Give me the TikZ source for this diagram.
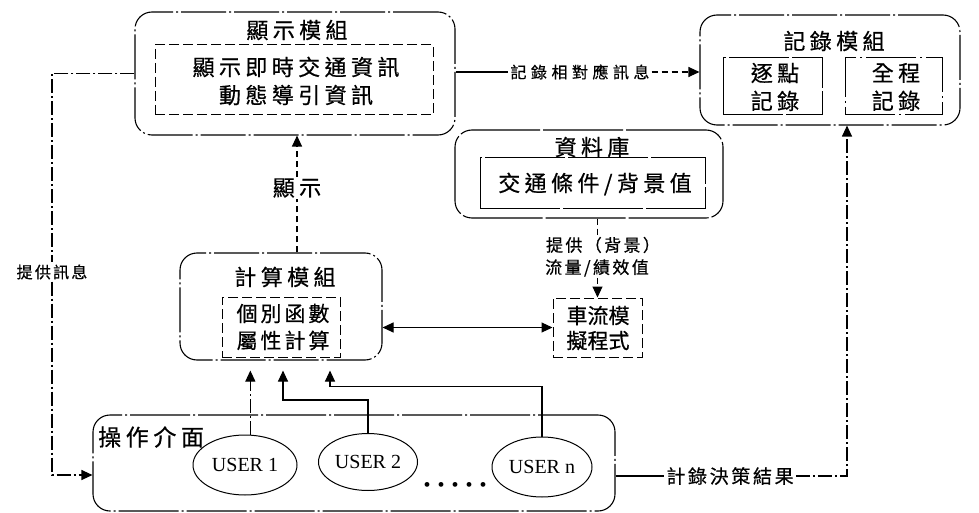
\documentclass[tikz,border=0pt]{standalone}
\usepackage{fontspec}
\setmainfont{Liberation Serif}
\newfontfamily\cjk[FakeBold=0.6]{Noto Sans CJK TC}
\newfontfamily\cjkw[LetterSpace=20,FakeBold=0.6]{Noto Sans CJK TC}
\newfontfamily\cjkm[LetterSpace=28,FakeBold=0.6]{Noto Sans CJK TC}
\newfontfamily\cjks[LetterSpace=14,FakeBold=0.6]{Noto Sans CJK TC}
\usetikzlibrary{arrows.meta,calc,shapes.geometric}
\tikzset{
  outerbox/.style={draw, rounded corners=17pt, line width=1.1pt, dash pattern=on 45pt off 3pt on 2pt off 3pt, inner sep=0pt},
  innerbox/.style={draw, line width=1pt, dash pattern=on 10pt off 4pt, inner sep=0pt},
  solidbox/.style={draw, line width=1pt, inner sep=0pt},
  bigtxt/.style={font=\cjkw\fontsize{22}{28}\selectfont, align=center, inner sep=1pt},
  lbltxt/.style={font=\cjkm\fontsize{16}{18}\selectfont, inner sep=2pt},
  midtxt/.style={font=\cjks\fontsize{17}{23}\selectfont, inner sep=1pt},
  usernode/.style={draw, ellipse, line width=1pt, inner sep=0pt, font=\fontsize{20}{24}\selectfont},
  conn/.style={line width=1.1pt},
  dd/.style={conn, dash pattern=on 14pt off 3pt on 2pt off 3pt},
  dsh/.style={conn, dash pattern=on 6pt off 4pt},
  tip/.style={-{Triangle[length=11pt,width=10pt]}},
  dtip/.style={{Triangle[length=11pt,width=10pt]}-{Triangle[length=11pt,width=10pt]}}
}
\begin{document}
\begin{tikzpicture}[x=1pt,y=-1pt]
\useasboundingbox (0,0) rectangle (979,513);
% display module
\node[outerbox, minimum width=320pt, minimum height=123pt] (disp) at (295,73.5) {};
\node[bigtxt] (dispt) at (297,30) {顯示模組};
\node[innerbox, minimum width=278pt, minimum height=70pt] (dispin) at (294,80) {};
\node[bigtxt] (dispint) at (296,81) {顯示即時交通資訊\\動態導引資訊};
% record module
\node[outerbox, minimum width=260pt, minimum height=110pt] (rec) at (830,70) {};
\node[bigtxt] (rect) at (834,41) {記錄模組};
\node[solidbox, dash pattern=on 60pt off 3pt, minimum width=99pt, minimum height=57pt] (rec1) at (772.5,86.5) {};
\node[bigtxt] (rec1t) at (775,87) {逐點\\記錄};
\node[solidbox, dash pattern=on 50pt off 4pt on 2pt off 4pt, minimum width=97pt, minimum height=57pt] (rec2) at (893.5,86.5) {};
\node[bigtxt] (rec2t) at (896,87) {全程\\記錄};
% database
\node[outerbox, dash pattern=on 80pt off 3pt, minimum width=268pt, minimum height=88pt] (db) at (589,174) {};
\node[bigtxt] (dbt) at (592,147) {資料庫};
\node[solidbox, dash pattern=on 80pt off 3pt, minimum width=225pt, minimum height=50pt] (dbin) at (592.5,183) {};
\node[bigtxt] (dbint) at (595,184) {交通條件/背景值};
% simulation
\node[innerbox, minimum width=89pt, minimum height=59pt] (sim) at (597.5,327.5) {};
\node[bigtxt, font=\cjk\fontsize{21}{25}\selectfont] (simt) at (598,328) {車流模\\擬程式};
% calc module
\node[outerbox, minimum width=202pt, minimum height=107pt] (calc) at (281,306.5) {};
\node[bigtxt] (calct) at (285,277) {計算模組};
\node[innerbox, minimum width=118pt, minimum height=60pt] (calcin) at (281,327) {};
\node[bigtxt, font=\cjks\fontsize{21}{27}\selectfont] (calcint) at (283,327) {個別函數\\屬性計算};
% operation interface
\node[outerbox, dash pattern=on 60pt off 3pt on 2pt off 3pt, minimum width=522pt, minimum height=96pt] (ui) at (354,463) {};
\node[bigtxt, font=\cjkw\fontsize{23}{24}\selectfont, anchor=west] (uit) at (97,437) {操作介面};
\node[usernode, minimum width=104pt, minimum height=60pt] (u1) at (245,465) {USER 1};
\node[usernode, minimum width=99pt, minimum height=57pt] (u2) at (368,462) {USER 2};
\node[usernode, minimum width=100pt, minimum height=60pt] (un) at (542,467) {USER n};
\node[font=\fontsize{20}{20}\selectfont, inner sep=0pt] (dots) at (455,487) {\textbullet\hspace{7pt}\textbullet\hspace{7pt}\textbullet\hspace{7pt}\textbullet\hspace{7pt}\textbullet};
% labels
\node[bigtxt] (showl) at (297,188) {顯示};
\node[lbltxt] (recl) at (580,72) {記錄相對應訊息};
\node[lbltxt, font=\cjks\fontsize{16}{18}\selectfont] (infol) at (52,272) {提供訊息};
\node[midtxt] (prov1) at (603,245) {提供（背景）};
\node[midtxt] (prov2) at (597,268) {流量/績效值};
\node[lbltxt, font=\cjks\fontsize{19}{20}\selectfont] (decl) at (730,476) {計錄決策結果};
% connectors
\draw[dd] (disp.west) -| (infol.north);
\draw[dd, tip] (infol.south) |- ($(ui.west)+(0,12)$);
\draw[conn] (disp.east |- recl) -- (recl.west);
\draw[dsh, tip] (recl.east) -- (rec.west |- recl);
\draw[dsh] (calc.north -| showl) -- (showl.south);
\draw[dsh, tip] (showl.north) -- (disp.south -| showl);
\draw[dsh] (db.south -| sim.north) -- (prov1.north -| sim.north);
\draw[dsh, tip] (prov2.south -| sim.north) -- (sim.north);
\draw[conn, dtip] (calc.east |- sim.west) -- (sim.west);
\draw[dd, tip, shorten >=10pt] (u1.80) -- (u1.80 |- calc.south);
\draw[conn, tip] (u2.north) -- ++(0,-33) -| ($(calc.south)+(2,10)$);
\draw[conn, tip] (un.north) -- ++(0,-50) -| ($(calc.south)+(49,10)$);
\draw[conn] (ui.east |- decl) -- (decl.west);
\draw[dd, tip] (decl.east) -| ($(rec.south)+(17,0)$);
\end{tikzpicture}
\end{document}
